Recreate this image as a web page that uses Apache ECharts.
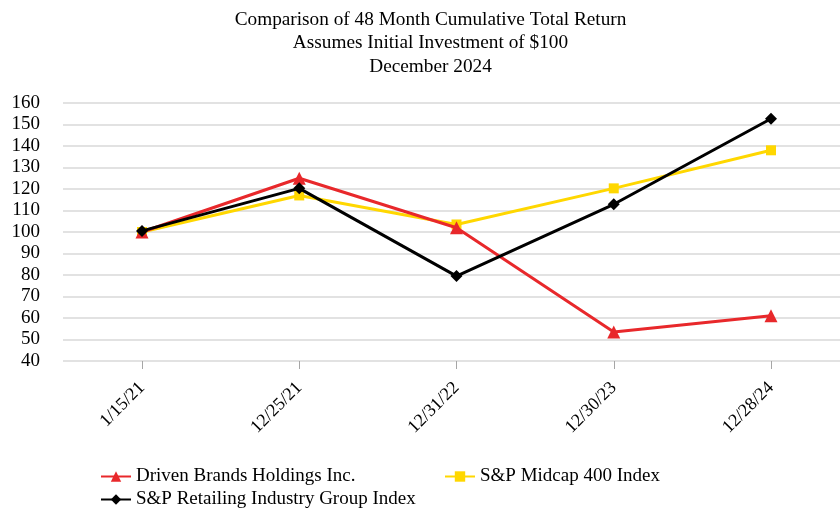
<!DOCTYPE html>
<html>
<head>
<meta charset="utf-8">
<script src="https://cdn.jsdelivr.net/npm/echarts@6/dist/echarts.min.js"></script>
<style>html,body{margin:0;padding:0;background:#fff}#c{width:840px;height:508px}</style>
</head>
<body>
<div id="c"></div>
<script>
const categories = ['1/15/21', '12/25/21', '12/31/22', '12/30/23', '12/28/24'];
const drivenBrands = [100, 125, 102, 53.5, 61];
const spMidcap400 = [100, 117, 103.5, 120.3, 138];
const spRetailing = [100.5, 120.3, 79.5, 112.9, 152.7];
const yTicks = { min: 40, max: 160, interval: 10 };

const FONT = 'Liberation Serif';
const chart = echarts.init(document.getElementById('c'), null, { renderer: 'canvas' });
const legendText = { fontFamily: FONT, fontSize: 19, color: '#000' };
const legendCommon = { itemWidth: 30, itemHeight: 13, itemGap: 6, textStyle: legendText, padding: 0 };
chart.setOption({
  animation: false,
  backgroundColor: '#fff',
  title: {
    text: 'Comparison of 48 Month Cumulative Total Return\nAssumes Initial Investment of $100\nDecember 2024',
    left: 425.5, textAlign: 'center', top: 3,
    textStyle: { fontFamily: FONT, fontSize: 19.3, fontWeight: 'normal', color: '#000', lineHeight: 23.5 }
  },
  grid: [
    { left: 63, right: 0, top: 103, height: 258 },
    { left: 142, right: 69, top: 103, height: 258 }
  ],
  xAxis: [
    { type: 'category', gridIndex: 0, data: categories, show: false },
    {
      type: 'category', gridIndex: 1, data: categories, boundaryGap: false,
      axisLine: { show: false },
      axisTick: { show: true, length: 8, lineStyle: { color: '#a6a6a6', width: 1 } },
      axisLabel: { rotate: 45, fontFamily: FONT, fontSize: 18, color: '#000', margin: 24 },
      splitLine: { show: false }
    }
  ],
  yAxis: [
    {
      type: 'value', gridIndex: 0, min: yTicks.min, max: yTicks.max, interval: yTicks.interval,
      axisLine: { show: false }, axisTick: { show: false },
      axisLabel: { fontFamily: FONT, fontSize: 19, color: '#000', margin: 23 },
      splitLine: { lineStyle: { color: '#d9d9d9', width: 1.5 } }
    },
    { type: 'value', gridIndex: 1, min: yTicks.min, max: yTicks.max, interval: yTicks.interval, show: false, splitLine: { show: false } }
  ],
  legend: [
    Object.assign({ data: ['Driven Brands Holdings Inc.'], left: 100, top: 467 }, legendCommon),
    Object.assign({ data: ['S&P Midcap 400 Index'], left: 444, top: 467 }, legendCommon),
    Object.assign({ data: ['S&P Retailing Industry Group Index'], left: 100, top: 490 }, legendCommon)
  ],
  series: [
    { name: 'S&P Midcap 400 Index', type: 'line', xAxisIndex: 1, yAxisIndex: 1, data: spMidcap400, symbol: 'rect', symbolSize: 10,
      itemStyle: { color: '#ffd700' }, lineStyle: { color: '#ffd700', width: 3 }, z: 2 },
    { name: 'Driven Brands Holdings Inc.', type: 'line', xAxisIndex: 1, yAxisIndex: 1, data: drivenBrands, symbol: 'triangle', symbolSize: 13,
      itemStyle: { color: '#e8282b' }, lineStyle: { color: '#e8282b', width: 3 }, z: 3 },
    { name: 'S&P Retailing Industry Group Index', type: 'line', xAxisIndex: 1, yAxisIndex: 1, data: spRetailing, symbol: 'diamond', symbolSize: 12,
      itemStyle: { color: '#000' }, lineStyle: { color: '#000', width: 3 }, z: 4 }
  ]
});
</script>
</body>
</html>
